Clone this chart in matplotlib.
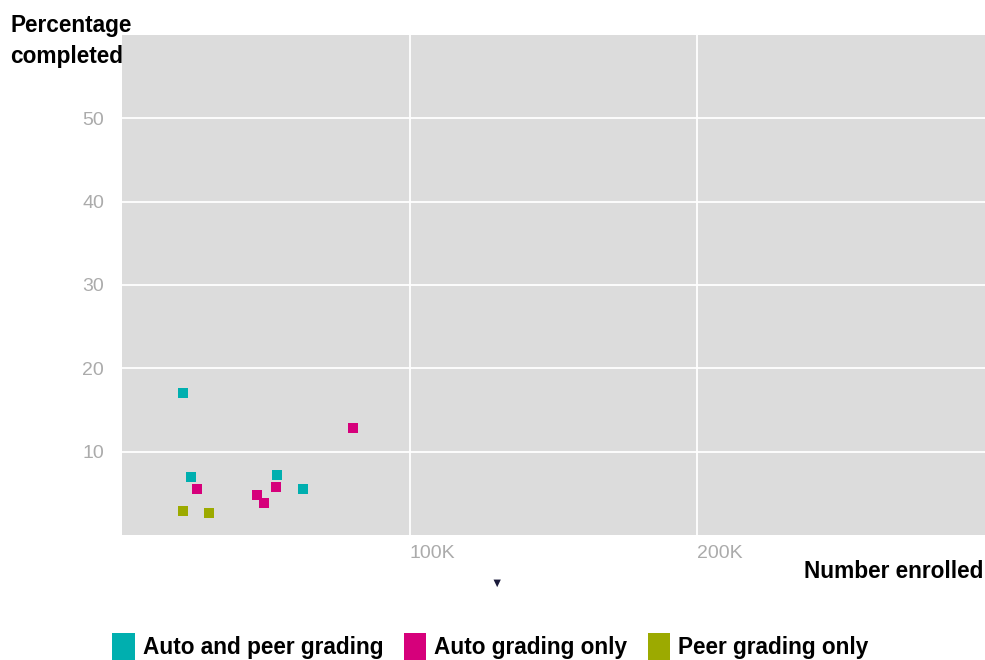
import matplotlib
matplotlib.use("Agg")
import matplotlib.pyplot as plt
from matplotlib.patches import Patch

plt.rcParams['font.family'] = ['Liberation Sans', 'DejaVu Sans']

series_names = ["Auto and peer grading", "Auto grading only", "Peer grading only"]
colors = ["#00AFAF", "#D6007B", "#9CAA00"]

auto_peer_x = [21300, 23900, 53900, 62900]
auto_peer_y = [17.1, 7.0, 7.2, 5.5]
auto_only_x = [80200, 25900, 53500, 47100, 49500]
auto_only_y = [12.8, 5.5, 5.8, 4.8, 3.8]
peer_only_x = [21300, 30200]
peer_only_y = [2.9, 2.6]

x_ticks = [100000, 200000]
x_tick_labels = ["100K", "200K"]
y_ticks = [10, 20, 30, 40, 50]

fig = plt.figure(figsize=(9.85, 6.6), dpi=100)
ax = fig.add_axes([122/985, 1-535/660, 1-122/985, 500/660])
ax.set_facecolor("#DCDCDC")
for s in ax.spines.values():
    s.set_visible(False)
ax.set_xlim(0, 300000)
ax.set_ylim(0, 60)
ax.set_xticks(x_ticks)
ax.set_xticklabels(x_tick_labels)
ax.set_yticks(y_ticks)
ax.grid(True, color="white", linewidth=1.3)
ax.set_axisbelow(True)
ax.tick_params(length=0, colors="#ABABAB", labelsize=14)
ax.tick_params(axis='y', pad=13)
ax.tick_params(axis='x', pad=7)
for lbl in ax.get_xticklabels():
    lbl.set_horizontalalignment('left')

for xs, ys, c in [(auto_peer_x, auto_peer_y, colors[0]),
                  (auto_only_x, auto_only_y, colors[1]),
                  (peer_only_x, peer_only_y, colors[2])]:
    ax.scatter(xs, ys, marker='s', s=48, color=c, linewidths=0, zorder=3)

fig.text(10/985, 1-14/660, "Percentage\ncompleted", fontsize=16.3, fontweight='bold',
         va='top', ha='left', multialignment='left', linespacing=1.45)
fig.text(983/985, 1-572/660, "Number enrolled", fontsize=16.3, fontweight='bold',
         va='center', ha='right')
fig.text(497/985, 1-584/660, "▼", fontsize=9, color="#1a1a3a", ha='center', va='center')

handles = [Patch(facecolor=c, edgecolor='none', label=n) for c, n in zip(colors, series_names)]
leg = fig.legend(handles=handles, loc='center', bbox_to_anchor=(490.5/985, 1-647/660), ncol=3,
                 frameon=False, prop={'size': 16.3, 'weight': 'bold'},
                 handlelength=1.0, handleheight=1.55, handletextpad=0.35, columnspacing=0.9)

fig.savefig("out.png", dpi=100, facecolor="white")
